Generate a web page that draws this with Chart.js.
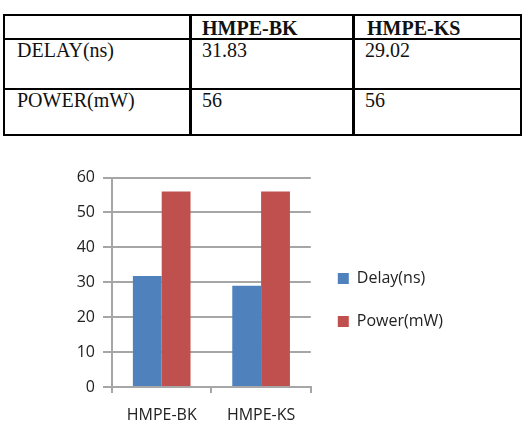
<!DOCTYPE html>
<html lang="en">
<head>
  <meta charset="UTF-8">
  <title>HMPE-BK vs HMPE-KS</title>
  <script src="https://cdn.jsdelivr.net/npm/chart.js"></script>
  <style>
    body { margin: 0; background: #fff; width: 526px; height: 430px; position: relative; overflow: hidden; }
    .line { position: absolute; background: #000; }
    .cell { position: absolute; font-family: "Liberation Serif", "Times New Roman", serif; font-size: 20px; line-height: 20px; color: #111; white-space: nowrap; }
    .cell.head { font-weight: bold; }
    #chartBox { position: absolute; left: 40px; top: 160px; }
  </style>
</head>
<body>
  <!-- table lines -->
  <div class="line" style="left:3px; top:14px; width:519px; height:2px"></div>
  <div class="line" style="left:3px; top:38px; width:519px; height:2px"></div>
  <div class="line" style="left:3px; top:88px; width:519px; height:2px"></div>
  <div class="line" style="left:3px; top:134px; width:519px; height:2px"></div>
  <div class="line" style="left:3px; top:14px; width:2px; height:122px"></div>
  <div class="line" style="left:189px; top:14px; width:3px; height:122px"></div>
  <div class="line" style="left:352px; top:14px; width:3px; height:122px"></div>
  <div class="line" style="left:520px; top:14px; width:2px; height:122px"></div>

  <div class="cell head" style="left:202px; top:18px">HMPE-BK</div>
  <div class="cell head" style="left:367px; top:18px">HMPE-KS</div>
  <div class="cell" style="left:17px; top:40px">DELAY(ns)</div>
  <div class="cell" style="left:202px; top:40px">31.83</div>
  <div class="cell" style="left:365px; top:40px">29.02</div>
  <div class="cell" style="left:17px; top:90px">POWER(mW)</div>
  <div class="cell" style="left:202px; top:90px">56</div>
  <div class="cell" style="left:365px; top:90px">56</div>

  <div id="chartBox"><canvas id="barChart" width="486" height="270"></canvas></div>

  <script>
    const categories = ["HMPE-BK", "HMPE-KS"];
    const delayNs = [31.83, 29.02];
    const powerMw = [56, 56];
    const seriesNames = ["Delay(ns)", "Power(mW)"];

    const gridGray = "#a6a6a6";
    const font = { family: "'Open Sans', sans-serif", size: 16 };

    new Chart(document.getElementById("barChart"), {
      type: "bar",
      data: {
        labels: categories,
        datasets: [
          { label: seriesNames[0], data: delayNs, backgroundColor: "#4f81bd" },
          { label: seriesNames[1], data: powerMw, backgroundColor: "#c0504d" }
        ]
      },
      options: {
        responsive: false,
        animation: false,
        categoryPercentage: 0.58,
        barPercentage: 1,
        layout: { padding: { top: 17, left: 0, bottom: 7, right: 73 } },
        plugins: {
          tooltip: { enabled: false },
          legend: {
            position: "right",
            align: "center",
            maxWidth: 200,
            labels: { boxWidth: 11, boxHeight: 11, padding: 27, color: "#222", font: font }
          }
        },
        scales: {
          x: {
            grid: { display: true, drawOnChartArea: false, tickLength: 6, color: gridGray, lineWidth: 2 },
            border: { display: true, color: gridGray, width: 2 },
            ticks: { color: "#222", font: font, padding: 13 },
            afterFit: s => { s.height = 36; }
          },
          y: {
            min: 0,
            max: 60,
            grid: { color: gridGray, lineWidth: 2, tickLength: 9 },
            border: { display: true, color: gridGray, width: 2 },
            ticks: { stepSize: 10, color: "#222", font: font, padding: 8 },
            afterFit: s => { s.width = 72; }
          }
        }
      }
    });
  </script>
</body>
</html>
